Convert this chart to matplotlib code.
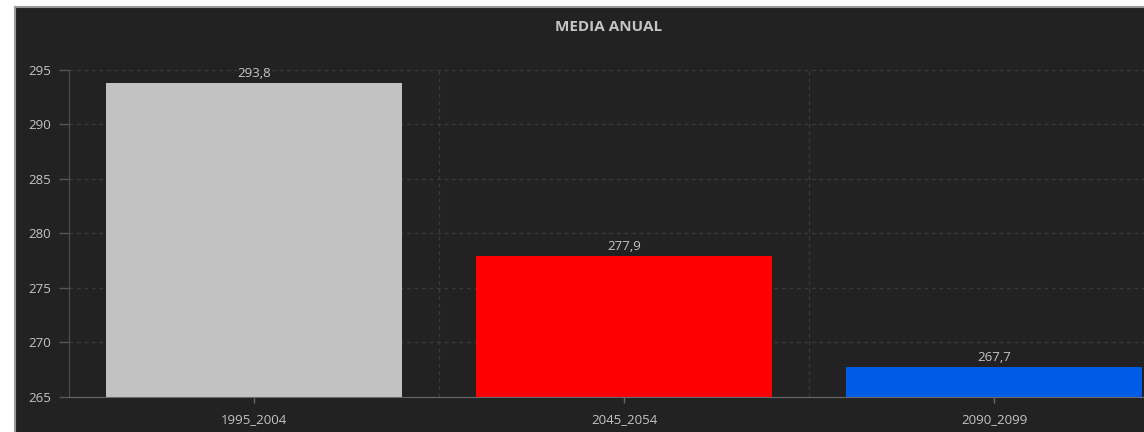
import matplotlib
matplotlib.use("Agg")
import matplotlib.pyplot as plt
from matplotlib.patches import Rectangle

# Annual mean per period
periods = ["1995_2004", "2045_2054", "2090_2099"]
values = [293.8, 277.9, 267.7]
bar_colors = ["#c2c2c2", "#ff0000", "#005be6"]
y_ticks = [265, 270, 275, 280, 285, 290, 295]
title = "MEDIA ANUAL"

W, H = 1144, 432
BG = "#222222"
TXT = "#c4c4c4"
GRID = "#3a3a3a"

plt.rcParams["font.family"] = ["Open Sans", "DejaVu Sans"]

fig = plt.figure(figsize=(W / 100, H / 100), dpi=100)
fig.patch.set_facecolor("white")

# dark panel with light frame
panel = Rectangle((15 / W, -0.2), 1.2, (H - 7) / H + 0.2, transform=fig.transFigure,
                  facecolor=BG, edgecolor="#9a9a9a", linewidth=1.5, zorder=-10)
fig.patches.append(panel)

left_px, right_px = 69, 1179
top_px, bot_px = 70, 396.5
ax = fig.add_axes([left_px / W, (H - bot_px) / H,
                   (right_px - left_px) / W, (bot_px - top_px) / H])
ax.set_facecolor("none")
ax.set_zorder(5)

x = list(range(len(periods)))
ax.bar(x, values, width=0.8, color=bar_colors, zorder=3)
for xi, v in zip(x, values):
    ax.text(xi, v + 0.3, f"{v:.1f}".replace(".", ","), ha="center", va="bottom",
            color=TXT, fontsize=9.5, zorder=4)

ax.set_xlim(-0.5, len(periods) - 0.5)
ax.set_ylim(y_ticks[0], y_ticks[-1])
ax.set_yticks(y_ticks)
ax.set_yticklabels([str(t) for t in y_ticks])
ax.set_xticks(x)
ax.set_xticklabels(periods)

# grid: dashed horizontals at ticks, dashed verticals between bands
for t in y_ticks[1:]:
    ax.axhline(t, color=GRID, linestyle=(0, (3, 3)), linewidth=0.9, zorder=1)
for b in [0.5, 1.5]:
    ax.axvline(b, color=GRID, linestyle=(0, (3, 3)), linewidth=0.9, zorder=1)

for s in ["top", "right"]:
    ax.spines[s].set_visible(False)
ax.spines["left"].set_color("#4e4e4e")
ax.spines["bottom"].set_color("#6a6a6a")
ax.spines["bottom"].set_zorder(5)

ax.tick_params(axis="y", colors="#555555", labelcolor=TXT, length=7, width=1,
               labelsize=9.5, pad=6)
ax.tick_params(axis="x", colors="#666666", labelcolor=TXT, length=4, width=1,
               labelsize=9.5, pad=8)

fig.text(609 / W, 1 - 27 / H, title, ha="center", va="center", color=TXT,
         fontsize=11, fontweight="bold", zorder=6)

fig.savefig("out.png", dpi=100, facecolor=fig.get_facecolor())
